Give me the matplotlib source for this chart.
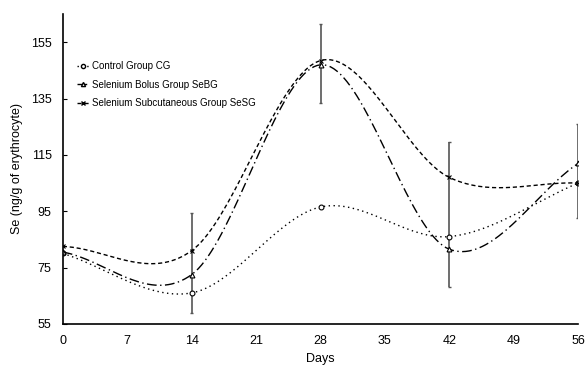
import numpy as np
import matplotlib.pyplot as plt

##### Data #####
days = [0, 14, 28, 42, 56]
control_cg = [80, 66, 96.5, 86, 105]
bolus_sebg = [80.5, 72.5, 147, 81.5, 112]
subcut_sesg = [82.5, 81, 148.5, 107, 105]

# error bars (one per sampling day)
err_days = [14, 28, 42, 56]
err_low = [59, 133.5, 68, 92.5]
err_high = [94.5, 161.5, 119.5, 126]


##### Functions #####
def smooth_line(x, y, n=40):
    '''
    Catmull-Rom curve through the points, similar to the excel "smoothed line"
    '''
    x = np.asarray(x, float)
    y = np.asarray(y, float)
    px = np.concatenate([[2 * x[0] - x[1]], x, [2 * x[-1] - x[-2]]])
    py = np.concatenate([[2 * y[0] - y[1]], y, [2 * y[-1] - y[-2]]])
    xs, ys = [], []
    for i in range(1, len(px) - 2):
        t = np.linspace(0, 1, n)
        t2, t3 = t * t, t * t * t
        for p, out in ((px, xs), (py, ys)):
            p0, p1, p2, p3 = p[i - 1], p[i], p[i + 1], p[i + 2]
            out.append(0.5 * (2 * p1 + (-p0 + p2) * t + (2 * p0 - 5 * p1 + 4 * p2 - p3) * t2
                              + (-p0 + 3 * p1 - 3 * p2 + p3) * t3))
    return np.concatenate(xs), np.concatenate(ys)


##### Visualization #####
plt.rcParams.update({
    'font.family': 'Liberation Sans',
    'font.size': 8,
    'xtick.labelsize': 9,
    'ytick.labelsize': 9,
    'ytick.direction': 'in',
    'xtick.direction': 'in',
    'axes.linewidth': 1.2})

fig = plt.figure(figsize=(5.87, 3.71), dpi=100)
ax = fig.add_axes([0.107, 0.127, 0.878, 0.835])

series = [
    (control_cg, 'Control Group CG', (0, (1, 2.5)), 'o'),
    (bolus_sebg, 'Selenium Bolus Group SeBG', (0, (7, 2.5, 1, 2.5)), '^'),
    (subcut_sesg, 'Selenium Subcutaneous Group SeSG', (0, (3, 2)), 'x'),
]

ax.vlines(err_days, err_low, err_high, color='#555555', linewidth=1.2)
ax.hlines(err_low + err_high, np.array(err_days * 2) - 0.2, np.array(err_days * 2) + 0.2,
          color='#555555', linewidth=1)

for values, label, ls, mk in series:
    sx, sy = smooth_line(days, values)
    ax.plot(sx, sy, color='black', linestyle=ls, linewidth=1.0)
    ax.plot(days, values, linestyle='None', marker=mk, markersize=3.5,
            markerfacecolor='white', markeredgecolor='black', markeredgewidth=0.8)
    ax.plot([], [], color='black', linestyle=ls, linewidth=1.0, marker=mk, markersize=3,
            markerfacecolor='white', label=label)

ax.set_xlim(0, 56)
ax.set_ylim(55, 165)
ax.set_xticks([0, 7, 14, 21, 28, 35, 42, 49, 56])
ax.set_yticks([55, 75, 95, 115, 135, 155])
ax.tick_params(axis='x', length=0, pad=8)
ax.tick_params(axis='y', length=3, pad=8)

ax.spines['top'].set_visible(False)
ax.spines['right'].set_visible(False)

ax.set_xlabel('Days', fontsize=9, labelpad=4)
ax.set_ylabel('Se (ng/g of erythrocyte)', fontsize=9, labelpad=6)

ax.legend(loc='upper left', bbox_to_anchor=(0.01, 0.877), frameon=False, fontsize=7,
          handlelength=1.3, handletextpad=0.3, labelspacing=0.9)

fig.savefig('out.png', dpi=100)
